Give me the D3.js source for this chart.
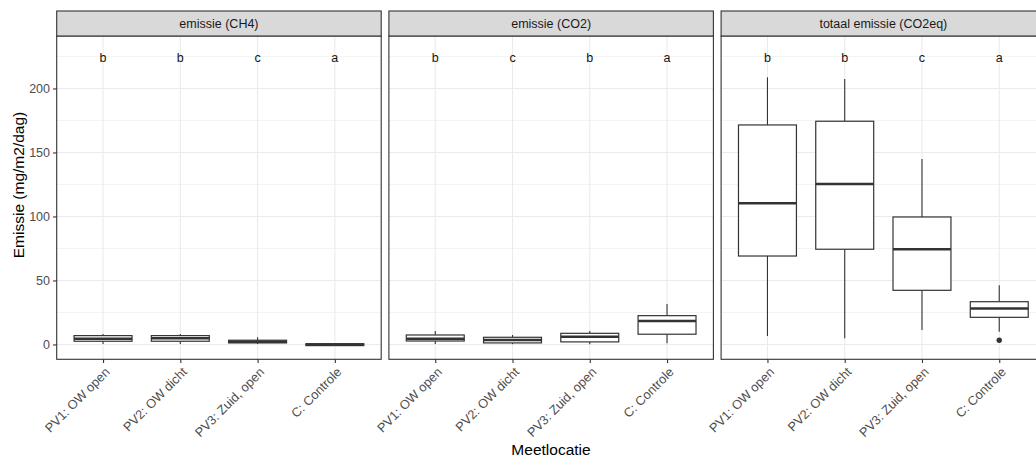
<!DOCTYPE html>
<html>
<head>
<meta charset="utf-8">
<script src="https://cdn.jsdelivr.net/npm/d3@7"></script>
<style>
  html, body { margin: 0; padding: 0; background: #fff; }
  svg { display: block; font-family: "Liberation Sans", Arial, sans-serif; }
</style>
</head>
<body>
<svg id="chart" width="1036" height="458"></svg>
<script>
// Measurement locations (x categories) and facet titles
const locaties = ["PV1: OW open", "PV2: OW dicht", "PV3: Zuid, open", "C: Controle"];
const facetten = ["emissie (CH4)", "emissie (CO2)", "totaal emissie (CO2eq)"];

// Box statistics per location: [lower whisker, Q1, median, Q3, upper whisker]
const ch4Stats = [
  [0.4, 2.5, 4.5, 6.9, 8.2],
  [0.4, 2.5, 4.8, 6.9, 8.2],
  [0.4, 1.2, 2.2, 3.3, 5.6],
  [-1.0, -0.9, -0.2, 0.6, 0.8]
];
const co2Stats = [
  [0.4, 2.7, 4.5, 7.4, 10.5],
  [0.2, 1.2, 3.5, 5.6, 7.4],
  [0.2, 2.0, 6.1, 8.7, 10.5],
  [0.9, 8.0, 18.4, 22.5, 31.6]
];
const totStats = [
  [6.6, 69.1, 110.3, 171.5, 208.7],
  [4.8, 74.4, 125.4, 174.4, 207.4],
  [11.3, 42.3, 74.4, 99.6, 144.9],
  [10.0, 21.2, 28.0, 33.4, 46.2]
];

// Outlying points per location
const ch4Outliers = [[], [], [], []];
const co2Outliers = [[], [], [], []];
const totOutliers = [[], [], [], [3.3]];

// Significance letters (compact letter display) and their height
const ch4Letters = ["b", "b", "c", "a"];
const co2Letters = ["b", "c", "b", "a"];
const totLetters = ["b", "b", "c", "a"];
const letterY = 224;

// Axis ticks
const yMajor = [0, 50, 100, 150, 200];
const yMinor = [25, 75, 125, 175, 225];

const panels = [
  { title: facetten[0], stats: ch4Stats, outliers: ch4Outliers, letters: ch4Letters },
  { title: facetten[1], stats: co2Stats, outliers: co2Outliers, letters: co2Letters },
  { title: facetten[2], stats: totStats, outliers: totOutliers, letters: totLetters }
];

const svg = d3.select("#chart");
const panelLeft0 = 56.7, panelW = 324.5, panelGap = 7.7;
const stripTop = 11, stripH = 25;
const panelTop = stripTop + stripH, panelBottom = 359.3;
const dark = "#333333", grid = "#EBEBEB", tickTxt = "#4D4D4D";

const y = d3.scaleLinear().domain([-11.6, 241]).range([panelBottom, panelTop]);

panels.forEach((p, i) => {
  const left = panelLeft0 + i * (panelW + panelGap);
  const right = left + panelW;
  const x = d3.scalePoint().domain(locaties).range([left, right]).padding(0.6);
  const bw = x.step() * 0.75;
  const g = svg.append("g");

  // panel background
  g.append("rect").attr("x", left).attr("y", panelTop).attr("width", panelW)
    .attr("height", panelBottom - panelTop).attr("fill", "#fff");

  // grid lines
  g.selectAll(".minor").data(yMinor).join("line")
    .attr("x1", left).attr("x2", right)
    .attr("y1", d => y(d)).attr("y2", d => y(d))
    .attr("stroke", grid).attr("stroke-width", 0.6);
  g.selectAll(".major").data(yMajor).join("line")
    .attr("x1", left).attr("x2", right)
    .attr("y1", d => y(d)).attr("y2", d => y(d))
    .attr("stroke", grid).attr("stroke-width", 1.1);
  g.selectAll(".vgrid").data(locaties).join("line")
    .attr("x1", d => x(d)).attr("x2", d => x(d))
    .attr("y1", panelTop).attr("y2", panelBottom)
    .attr("stroke", grid).attr("stroke-width", 1.1);

  // boxplots
  p.stats.forEach((s, j) => {
    const cx = x(locaties[j]);
    const [lo, q1, med, q3, hi] = s;
    g.append("line").attr("x1", cx).attr("x2", cx).attr("y1", y(q3)).attr("y2", y(hi))
      .attr("stroke", dark).attr("stroke-width", 1.1);
    g.append("line").attr("x1", cx).attr("x2", cx).attr("y1", y(q1)).attr("y2", y(lo))
      .attr("stroke", dark).attr("stroke-width", 1.1);
    g.append("rect").attr("x", cx - bw / 2).attr("width", bw)
      .attr("y", y(q3)).attr("height", Math.max(0, y(q1) - y(q3)))
      .attr("fill", "#fff").attr("stroke", dark).attr("stroke-width", 1.2);
    g.append("line").attr("x1", cx - bw / 2).attr("x2", cx + bw / 2)
      .attr("y1", y(med)).attr("y2", y(med))
      .attr("stroke", dark).attr("stroke-width", 2.5);
    p.outliers[j].forEach(v => {
      g.append("circle").attr("cx", cx).attr("cy", y(v)).attr("r", 2.7).attr("fill", dark);
    });
  });

  // significance letters
  g.selectAll(".letter").data(p.letters).join("text")
    .attr("x", (d, j) => x(locaties[j])).attr("y", y(letterY)).attr("dy", "0.35em")
    .attr("text-anchor", "middle").attr("font-size", 12.5).attr("fill", "#111")
    .text(d => d);

  // panel border
  g.append("rect").attr("x", left).attr("y", panelTop).attr("width", panelW)
    .attr("height", panelBottom - panelTop).attr("fill", "none")
    .attr("stroke", dark).attr("stroke-width", 1.1);

  // strip
  g.append("rect").attr("x", left).attr("y", stripTop).attr("width", panelW)
    .attr("height", stripH).attr("fill", "#D9D9D9")
    .attr("stroke", dark).attr("stroke-width", 1.1);
  g.append("text").attr("x", (left + right) / 2).attr("y", stripTop + stripH / 2)
    .attr("dy", "0.35em").attr("text-anchor", "middle").attr("font-size", 12.5)
    .attr("fill", "#1A1A1A").text(p.title);

  // x axis ticks and rotated labels
  const xAxis = d3.axisBottom(x).tickSize(3.7).tickPadding(0).tickFormat("");
  const ax = g.append("g").attr("transform", `translate(0,${panelBottom})`).call(xAxis);
  ax.select(".domain").remove();
  ax.selectAll(".tick line").attr("stroke", dark).attr("stroke-width", 1.1);
  g.selectAll(".xlab").data(locaties).join("text")
    .attr("transform", d => `translate(${x(d) + 1},${panelBottom + 7}) rotate(-45)`)
    .attr("dy", "0.72em").attr("text-anchor", "end")
    .attr("font-size", 12.8).attr("fill", tickTxt).text(d => d);

  // y axis on the first panel only
  if (i === 0) {
    const yAxis = d3.axisLeft(y).tickValues(yMajor).tickSize(3.7).tickPadding(3);
    const ay = g.append("g").attr("transform", `translate(${left},0)`).call(yAxis);
    ay.select(".domain").remove();
    ay.selectAll(".tick line").attr("stroke", dark).attr("stroke-width", 1.1);
    ay.selectAll(".tick text").attr("font-size", 12.5).attr("fill", tickTxt)
      .attr("font-family", "Liberation Sans, Arial, sans-serif");
  }
});

// axis titles
svg.append("text").attr("transform", `translate(24,185) rotate(-90)`)
  .attr("text-anchor", "middle").attr("font-size", 15.5).attr("fill", "#000")
  .text("Emissie (mg/m2/dag)");
svg.append("text").attr("x", 551).attr("y", 455)
  .attr("text-anchor", "middle").attr("font-size", 15.5).attr("fill", "#000")
  .text("Meetlocatie");
</script>
</body>
</html>
